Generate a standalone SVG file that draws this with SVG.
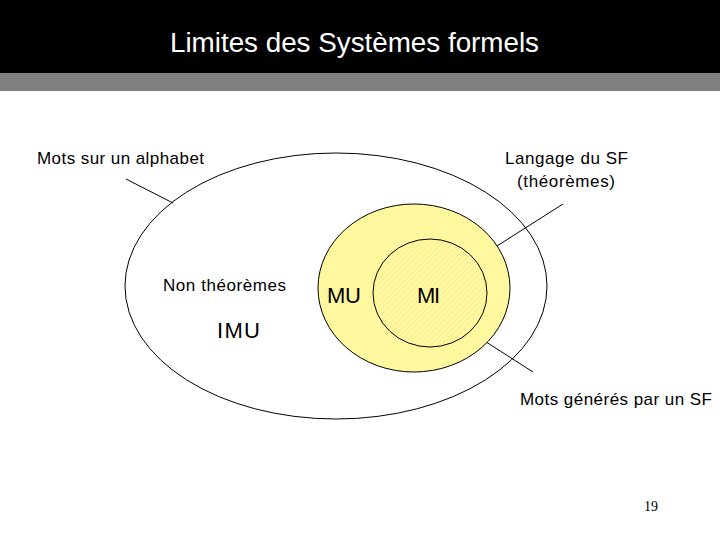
<svg xmlns="http://www.w3.org/2000/svg" width="720" height="540" viewBox="0 0 720 540">
<defs>
<style>
.lbl{font-family:"Liberation Sans",Arial,sans-serif;font-size:17px;fill:#000}
.big{font-family:"Liberation Sans",Arial,sans-serif;font-size:22px;fill:#000}
.ln{stroke:#000;stroke-width:1;fill:none}
</style>
<pattern id="hatch" patternUnits="userSpaceOnUse" width="4" height="4" patternTransform="rotate(45)">
<rect width="4" height="4" fill="#FFF89E"/>
<line x1="0" y1="0" x2="0" y2="4" stroke="#EDE48A" stroke-width="1"/>
</pattern>
</defs>
<rect width="720" height="540" fill="#fff"/>
<rect width="720" height="73" fill="#000"/>
<rect y="73" width="720" height="18" fill="#808080"/>
<text x="170" y="52" font-family="Liberation Sans,Arial,sans-serif" font-size="27" fill="#fff" textLength="369" lengthAdjust="spacingAndGlyphs">Limites des Systèmes formels</text>
<g id="connectors">
<line class="ln" x1="126" y1="179" x2="173" y2="203"/>
<line class="ln" x1="563" y1="204" x2="497" y2="246"/>
<line class="ln" x1="469" y1="331" x2="533" y2="372"/>
</g>
<g id="alphabet">
<ellipse cx="336" cy="286" rx="211" ry="133" fill="none" stroke="#000"/>
</g>
<g id="langage">
<ellipse cx="414" cy="288" rx="96" ry="84" fill="#FFF89E" stroke="#000"/>
</g>
<g id="generes">
<ellipse cx="430" cy="293" rx="57" ry="54" fill="url(#hatch)" stroke="#000"/>
</g>
<g id="labels">
<text class="lbl" x="37" y="164" textLength="167">Mots sur un alphabet</text>
<text class="lbl" x="505" y="164" textLength="123">Langage du SF</text>
<text class="lbl" x="517" y="187" font-size="16" textLength="98">(théorèmes)</text>
<text class="lbl" x="163" y="291" textLength="123">Non théorèmes</text>
<text class="big" x="327" y="303" textLength="34">MU</text>
<text class="big" x="417" y="303" textLength="23">MI</text>
<text class="big" x="217" y="338" textLength="43">IMU</text>
<text class="lbl" x="520" y="405" textLength="192">Mots générés par un SF</text>
<text x="651" y="511" text-anchor="middle" font-family="Liberation Serif,Times New Roman,serif" font-size="14" fill="#000">19</text>
</g>
</svg>
